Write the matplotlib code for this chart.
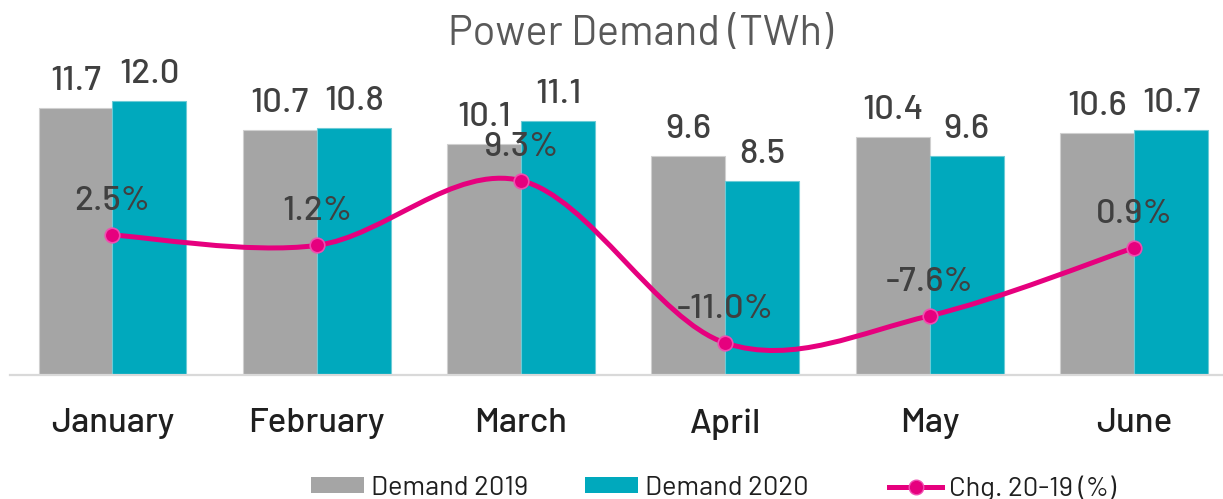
import matplotlib
matplotlib.use("Agg")
import matplotlib.pyplot as plt
from matplotlib.path import Path
from matplotlib.patches import PathPatch, Patch
from matplotlib.lines import Line2D

months = ["January", "February", "March", "April", "May", "June"]
demand_2019 = [11.7, 10.7, 10.1, 9.6, 10.4, 10.6]
demand_2020 = [12.0, 10.8, 11.1, 8.5, 9.6, 10.7]
change = [2.5, 1.2, 9.3, -11.0, -7.6, 0.9]

GRAY = "#A5A5A5"
TEAL = "#00A9BD"
PINK = "#E6007E"
LABEL = "#404040"
FONT = ["Barlow", "Roboto", "DejaVu Sans"]

plt.rcParams["font.family"] = FONT


def smooth_path(xs, ys):
    """Excel-like smoothed line: Catmull-Rom segments as cubic Beziers."""
    pts = list(zip(xs, ys))
    verts = [pts[0]]
    codes = [Path.MOVETO]
    n = len(pts)
    for i in range(n - 1):
        p0 = pts[i - 1] if i > 0 else pts[i]
        p1 = pts[i]
        p2 = pts[i + 1]
        p3 = pts[i + 2] if i + 2 < n else pts[i + 1]
        c1 = (p1[0] + (p2[0] - p0[0]) / 6, p1[1] + (p2[1] - p0[1]) / 6)
        c2 = (p2[0] - (p3[0] - p1[0]) / 6, p2[1] - (p3[1] - p1[1]) / 6)
        verts += [c1, c2, p2]
        codes += [Path.CURVE4] * 3
    return Path(verts, codes)


def main():
    W, H = 1223, 499
    fig = plt.figure(figsize=(W / 100, H / 100), dpi=100)
    ax = fig.add_axes([10.35 / W, 1 - 375 / H, 1225.65 / W, 320 / H])
    x = list(range(len(months)))
    bw = 0.362

    b1 = ax.bar([i - bw / 2 for i in x], demand_2019, bw, color=GRAY,
                edgecolor="#D0D0D0", linewidth=0.8)
    b2 = ax.bar([i + bw / 2 for i in x], demand_2020, bw, color=TEAL,
                edgecolor="#6CCBD6", linewidth=0.8)
    for bars, vals in ((b1, demand_2019), (b2, demand_2020)):
        for rect, v in zip(bars, vals):
            ax.annotate("%.1f" % v, (rect.get_x() + rect.get_width() / 2, v),
                        xytext=(0, 13), textcoords="offset points",
                        ha="center", va="baseline", fontsize=25, color=LABEL,
                        fontweight="medium")

    ax.set_xlim(-0.5, len(months) - 0.5)
    ax.set_ylim(0, 14)
    ax.set_xticks(x)
    ax.set_xticklabels(months, fontsize=25, color="#1F1F1F", fontweight="medium")
    ax.tick_params(axis="x", length=0, pad=24)
    ax.set_yticks([])
    for s in ("top", "right", "left"):
        ax.spines[s].set_visible(False)
    ax.spines["bottom"].set_color("#D9D9D9")
    ax.spines["bottom"].set_linewidth(1.6)

    ax2 = ax.twinx()
    ax2.set_ylim(-15, 25)
    ax2.axis("off")
    ax2.add_patch(PathPatch(smooth_path(x, change), facecolor="none",
                            edgecolor=PINK, linewidth=3.6, capstyle="round"))
    ax2.plot(x, change, linestyle="none", marker="o", markersize=10.5,
             markerfacecolor=PINK, markeredgecolor="#F04DB0", markeredgewidth=1.2)
    for xi, v in zip(x, change):
        ax2.annotate("%.1f%%" % v, (xi, v), xytext=(0, 18), textcoords="offset points",
                     ha="center", va="baseline", fontsize=25, color=LABEL,
                     fontweight="medium")

    fig.text(448 / W, 1 - 45 / H, "Power Demand (TWh)", ha="left", va="baseline",
             fontsize=30, color="#595959")

    handles = [
        Patch(facecolor=GRAY, label="Demand 2019"),
        Patch(facecolor=TEAL, label="Demand 2020"),
        Line2D([], [], color=PINK, linewidth=3.6, marker="o", markersize=10.5,
               markerfacecolor=PINK, markeredgecolor="#F04DB0", label="Chg. 20-19 (%)"),
    ]
    for h, left in zip(handles, (311, 585, 889)):
        fig.legend(handles=[h], loc="center left", bbox_to_anchor=(left / W, 1 - 488 / H),
                   frameon=False, fontsize=19.7, handlelength=1.95, handleheight=0.5,
                   handletextpad=0.25, borderpad=0, borderaxespad=0,
                   labelcolor="#1F1F1F")

    fig.savefig("out.png", dpi=100)


if __name__ == "__main__":
    main()
